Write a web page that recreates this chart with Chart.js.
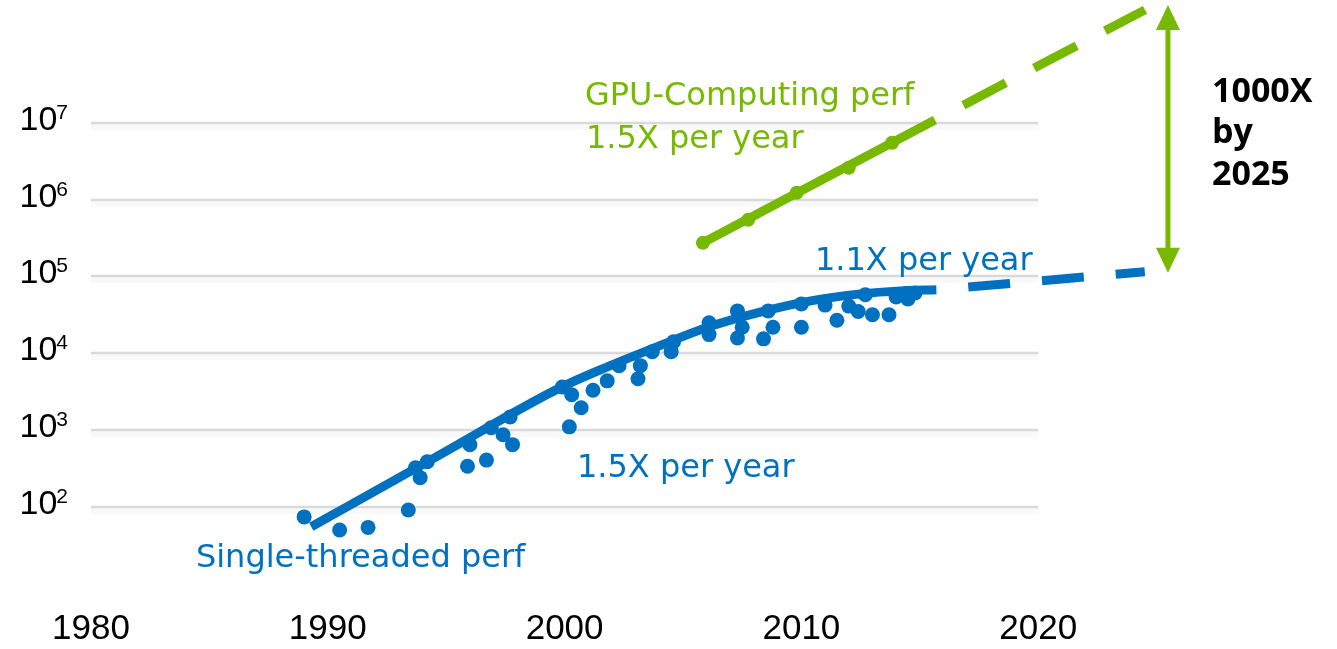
<!DOCTYPE html>
<html>
<head>
<meta charset="utf-8">
<script src="https://cdn.jsdelivr.net/npm/chart.js@4.4.1/dist/chart.umd.min.js"></script>
<style>
  body { margin: 0; background: #fff; }
  #wrap { position: relative; width: 1337px; height: 649px; }
</style>
</head>
<body>
<div id="wrap"><canvas id="c"></canvas></div>
<script>
// single-threaded CPU measurements (year, relative perf)
const cpuYears = [1989.0, 1990.5, 1991.7, 1993.4, 1993.7, 1993.9, 1994.2, 1995.9, 1996.0, 1996.7,
  1996.9, 1997.4, 1997.7, 1997.8, 1999.9, 2000.2, 2000.3, 2000.7, 2001.2, 2001.8,
  2002.3, 2003.1, 2003.2, 2003.7, 2004.5, 2004.6, 2006.1, 2006.1, 2007.3, 2007.3,
  2007.5, 2008.4, 2008.6, 2008.8, 2010.0, 2010.0, 2011.0, 2011.5, 2012.0, 2012.4,
  2012.7, 2013.0, 2013.7, 2014.0, 2014.5, 2014.8];
const cpuPerf = [74, 50, 54, 91, 323, 240, 387, 338, 645, 406,
  1070, 870, 1480, 645, 3640, 1100, 2880, 1950, 3300, 4370,
  6900, 4650, 6900, 10500, 10500, 14100, 25000, 17500, 35600, 15800,
  21800, 15400, 35600, 21800, 43900, 21800, 42400, 26900, 41100, 34900,
  57700, 31700, 31700, 54000, 51000, 61000];

// CPU trend (solid) and projection (dashed)
const cpuTrendYears = [1989.3, 1994.5, 1999.8, 2001.9, 2004.0, 2006.1, 2008.3, 2010.4, 2012.5, 2014.2, 2015.7];
const cpuTrendPerf = [55, 434, 3540, 6850, 12500, 22100, 34600, 48100, 59300, 64900, 67000];
const cpuProjYears = [2015.7, 2024.5];
const cpuProjPerf = [67000, 115000];

// GPU computing
const gpuYears = [2005.84, 2007.75, 2009.8, 2012.0, 2013.83];
const gpuPerf = [274000, 546000, 1230000, 2600000, 5500000];
const gpuTrendYears = [2005.84, 2015.64];
const gpuTrendPerf = [274000, 10900000];
const gpuProjYears = [2015.64, 2024.51];
const gpuProjPerf = [10900000, 296000000];

// axes
const xTicks = [1980, 1990, 2000, 2010, 2020];
const yTicks = [1e2, 1e3, 1e4, 1e5, 1e6, 1e7];

const blue = '#0070c0';
const green = '#76b900';

function pts(xs, ys) { return xs.map((x, i) => ({x: x, y: ys[i]})); }

// annotation anchors in (year, log10 value)
const notes = [
  {text: 'GPU-Computing perf', year: 2000.86, exp: 7.234, color: green, font: '32px "DejaVu Sans"'},
  {text: '1.5X per year', year: 2000.9, exp: 6.674, color: green, font: '32px "DejaVu Sans"'},
  {text: '1.1X per year', year: 2010.57, exp: 5.086, color: blue, font: '32px "DejaVu Sans"'},
  {text: '1.5X per year', year: 2000.52, exp: 2.391, color: blue, font: '32px "DejaVu Sans"'},
  {text: 'Single-threaded perf', year: 1984.43, exp: 1.219, color: blue, font: '32px "DejaVu Sans"'},
  {text: '1000X', year: 2027.34, exp: 7.273, color: '#000', font: '700 34px "Open Sans"'},
  {text: 'by', year: 2027.34, exp: 6.733, color: '#000', font: '700 34px "Open Sans"'},
  {text: '2025', year: 2027.34, exp: 6.193, color: '#000', font: '700 34px "Open Sans"'}
];
const arrow = {year: 2025.48, fromExp: 5.047, toExp: 8.536};

const gridPlugin = {
  id: 'gridLines',
  beforeDatasetsDraw(chart) {
    const {ctx, scales: {x, y}} = chart;
    const x0 = x.getPixelForValue(1980), x1 = x.getPixelForValue(2020);
    ctx.save();
    yTicks.forEach(v => {
      const py = Math.round(y.getPixelForValue(v));
      ctx.fillStyle = 'rgba(0,0,0,0.022)';
      ctx.fillRect(x0, py + 1, x1 - x0, 6);
      ctx.strokeStyle = '#d9d9d9';
      ctx.lineWidth = 2.5;
      ctx.beginPath();
      ctx.moveTo(x0, py);
      ctx.lineTo(x1, py);
      ctx.stroke();
    });
    ctx.restore();
  }
};

// y tick labels as 10 with a raised exponent
const yLabelPlugin = {
  id: 'yLabels',
  afterDraw(chart) {
    const {ctx, scales: {y}} = chart;
    const right = chart.chartArea.left - 23;
    ctx.save();
    ctx.fillStyle = '#000';
    ctx.textBaseline = 'alphabetic';
    ctx.textAlign = 'left';
    y.ticks.forEach(t => {
      const py = y.getPixelForValue(t.value);
      const e = String(Math.round(Math.log10(t.value)));
      ctx.font = '21px "Liberation Sans"';
      const ew = ctx.measureText(e).width;
      ctx.fillText(e, right - ew, py - 4);
      ctx.font = '34px "Liberation Sans"';
      const bw = ctx.measureText('10').width;
      ctx.fillText('10', right - ew - bw + 1, py + 7);
    });
    ctx.restore();
  }
};

const notePlugin = {
  id: 'notes',
  afterDatasetsDraw(chart) {
    const {ctx, scales: {x, y}} = chart;
    ctx.save();
    ctx.textBaseline = 'alphabetic';
    ctx.textAlign = 'left';
    notes.forEach(n => {
      ctx.font = n.font;
      ctx.fillStyle = n.color;
      ctx.fillText(n.text, x.getPixelForValue(n.year), y.getPixelForValue(Math.pow(10, n.exp)));
    });
    // double-headed arrow
    const ax = x.getPixelForValue(arrow.year);
    const yb = y.getPixelForValue(Math.pow(10, arrow.fromExp));
    const yt = y.getPixelForValue(Math.pow(10, arrow.toExp));
    const head = 25, half = 12;
    ctx.strokeStyle = green;
    ctx.fillStyle = green;
    ctx.lineWidth = 5;
    ctx.beginPath();
    ctx.moveTo(ax, yt + head - 2);
    ctx.lineTo(ax, yb - head + 2);
    ctx.stroke();
    ctx.beginPath();
    ctx.moveTo(ax, yt);
    ctx.lineTo(ax - half, yt + head);
    ctx.lineTo(ax + half, yt + head);
    ctx.closePath();
    ctx.fill();
    ctx.beginPath();
    ctx.moveTo(ax, yb);
    ctx.lineTo(ax - half, yb - head);
    ctx.lineTo(ax + half, yb - head);
    ctx.closePath();
    ctx.fill();
    ctx.restore();
  }
};

new Chart(document.getElementById('c'), {
  type: 'scatter',
  data: {
    datasets: [
      { data: pts(cpuTrendYears, cpuTrendPerf), showLine: true, borderColor: blue, borderWidth: 9,
        pointRadius: 0, cubicInterpolationMode: 'monotone', borderCapStyle: 'butt' },
      { data: pts(cpuProjYears, cpuProjPerf), showLine: true, borderColor: blue, borderWidth: 9,
        pointRadius: 0, borderDash: [42, 32], borderDashOffset: 42, borderCapStyle: 'butt' },
      { data: pts(cpuYears, cpuPerf), backgroundColor: blue, borderWidth: 0, pointRadius: 7.5 },
      { data: pts(gpuTrendYears, gpuTrendPerf), showLine: true, borderColor: green, borderWidth: 9,
        pointRadius: 0, borderCapStyle: 'butt' },
      { data: pts(gpuProjYears, gpuProjPerf), showLine: true, borderColor: green, borderWidth: 9,
        pointRadius: 0, borderDash: [48, 32], borderDashOffset: 48, borderCapStyle: 'butt' },
      { data: pts(gpuYears, gpuPerf), backgroundColor: green, borderWidth: 0, pointRadius: 7 }
    ]
  },
  options: {
    responsive: true,
    maintainAspectRatio: false,
    animation: false,
    events: [],
    layout: { autoPadding: false, padding: { left: 0, right: 62, top: 0, bottom: 0 } },
    plugins: { legend: { display: false }, tooltip: { enabled: false } },
    scales: {
      x: {
        type: 'linear', min: 1980, max: 2030,
        grid: { display: false, drawTicks: false },
        border: { display: false },
        afterBuildTicks: s => { s.ticks = xTicks.map(v => ({value: v})); },
        afterFit: s => { s.height = 50; s.paddingLeft = 0; s.paddingRight = 0; },
        ticks: {
          padding: 9, color: '#000', maxRotation: 0, autoSkip: false,
          font: { family: '"Liberation Sans", sans-serif', size: 35 },
          callback: v => String(v)
        }
      },
      y: {
        type: 'logarithmic', min: Math.pow(10, 0.8), max: Math.pow(10, 8.6),
        grid: { display: false, drawTicks: false },
        border: { display: false },
        afterBuildTicks: s => { s.ticks = yTicks.map(v => ({value: v})); },
        afterFit: s => { s.width = 91; s.paddingTop = 0; s.paddingBottom = 0; },
        ticks: { display: false }
      }
    }
  },
  plugins: [gridPlugin, yLabelPlugin, notePlugin]
});
</script>
</body>
</html>
